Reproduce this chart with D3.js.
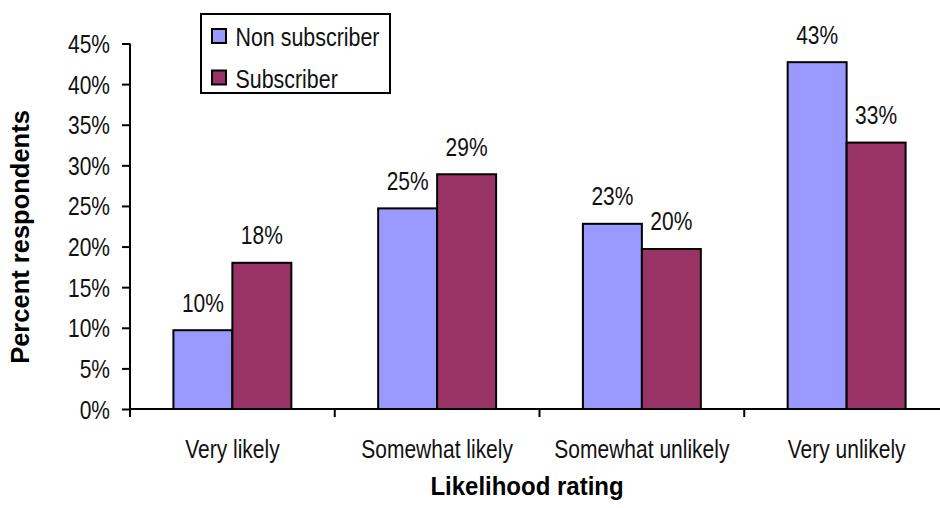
<!DOCTYPE html>
<html>
<head>
<meta charset="utf-8">
<script src="https://cdn.jsdelivr.net/npm/d3@7"></script>
<style>
  html, body { margin: 0; padding: 0; background: #fff; }
  svg { display: block; }
  .narrow { font-family: "Liberation Sans Narrow", "Arial Narrow", "Liberation Sans", Arial, sans-serif; }
  .bold { font-family: "Liberation Sans", Arial, sans-serif; font-weight: bold; }
</style>
</head>
<body>
<svg id="chart" width="940" height="508"></svg>
<script>
const categories = ["Very likely", "Somewhat likely", "Somewhat unlikely", "Very unlikely"];
const seriesNames = ["Non subscriber", "Subscriber"];
const nonSubscriber = [9.7, 24.7, 22.8, 42.7];
const subscriber = [18.0, 28.9, 19.7, 32.8];
const yTicks = [0, 5, 10, 15, 20, 25, 30, 35, 40, 45];
const colors = ["#9999FF", "#993366"];

const svg = d3.select("#chart");
const pLeft = 130, pRight = 949, pTop = 43.5, pBottom = 409;
const SX = 0.84; // horizontal condensing to imitate a narrow face

// position a text node at (x,y) with horizontal condensing
function placeNarrow(sel, fx, fy) {
  sel.attr("x", 0).attr("y", 0)
    .attr("transform", (d, i) => `translate(${fx(d, i)},${fy(d, i)}) scale(${SX},1)`);
}

const x0 = d3.scaleBand().domain(categories).range([pLeft, pRight]).padding(0);
const bw = x0.bandwidth();
const groupW = bw * 0.576;
const x1 = d3.scaleBand().domain(seriesNames).range([(bw - groupW) / 2, (bw + groupW) / 2]).padding(0);
const y = d3.scaleLinear().domain([0, 45]).range([pBottom, pTop]);

const values = [nonSubscriber, subscriber];
const rows = [];
categories.forEach((c, i) => {
  seriesNames.forEach((s, j) => rows.push({cat: c, ser: s, v: values[j][i], color: colors[j]}));
});

// bars
svg.append("g").selectAll("rect").data(rows).join("rect")
  .attr("x", d => x0(d.cat) + x1(d.ser))
  .attr("y", d => y(d.v))
  .attr("width", x1.bandwidth())
  .attr("height", d => y(0) - y(d.v))
  .attr("fill", d => d.color)
  .attr("stroke", "#000")
  .attr("stroke-width", 2);

// value labels
svg.append("g").selectAll("text").data(rows).join("text")
  .attr("class", "narrow")
  .attr("text-anchor", "middle")
  .attr("font-size", 25)
  .attr("fill", "#111")
  .text(d => Math.round(d.v) + "%")
  .call(placeNarrow, d => x0(d.cat) + x1(d.ser) + x1.bandwidth() / 2, d => y(d.v) - 18.5);

// y axis
const yAxis = svg.append("g").attr("transform", `translate(${pLeft},0)`)
  .call(d3.axisLeft(y).tickValues(yTicks).tickFormat(d => d + "%").tickSize(8).tickPadding(12));
yAxis.select(".domain").attr("stroke", "#000").attr("stroke-width", 2).attr("d", `M0,${pTop}V${pBottom}`);
yAxis.selectAll(".tick line").attr("stroke", "#000").attr("stroke-width", 2);
yAxis.selectAll(".tick text").attr("class", "narrow").attr("font-size", 25).attr("fill", "#111")
  .attr("dy", "0.36em").attr("x", 0).attr("transform", `translate(-20,0) scale(${SX},1)`);

// x axis
const boundaries = categories.map(c => x0(c)).concat([pRight]);
const xg = svg.append("g");
xg.append("line").attr("x1", pLeft).attr("x2", pRight).attr("y1", pBottom).attr("y2", pBottom)
  .attr("stroke", "#000").attr("stroke-width", 2);
xg.selectAll("line.tk").data(boundaries).join("line").attr("class", "tk")
  .attr("x1", d => d).attr("x2", d => d).attr("y1", pBottom).attr("y2", pBottom + 8)
  .attr("stroke", "#000").attr("stroke-width", 2);
xg.selectAll("text").data(categories).join("text")
  .attr("class", "narrow")
  .attr("text-anchor", "middle")
  .attr("font-size", 25)
  .attr("fill", "#111")
  .text(d => d)
  .call(placeNarrow, d => x0(d) + bw / 2, () => 458);

// axis titles
svg.append("text").attr("class", "bold")
  .attr("transform", "translate(527,495) scale(1,1.05)").attr("text-anchor", "middle")
  .attr("font-size", 24).attr("fill", "#000").text("Likelihood rating");
svg.append("text").attr("class", "bold")
  .attr("transform", "translate(29,237) rotate(-90)")
  .attr("text-anchor", "middle")
  .attr("font-size", 25.5).attr("fill", "#000").text("Percent respondents");

// legend
const lg = svg.append("g");
lg.append("rect").attr("x", 201).attr("y", 14).attr("width", 189).attr("height", 79)
  .attr("fill", "#fff").attr("stroke", "#000").attr("stroke-width", 2);
lg.selectAll("rect.sw").data(seriesNames).join("rect").attr("class", "sw")
  .attr("x", 212).attr("y", (d, i) => 29 + i * 41.5).attr("width", 14).attr("height", 14)
  .attr("fill", (d, i) => colors[i]).attr("stroke", "#000").attr("stroke-width", 2);
lg.selectAll("text").data(seriesNames).join("text")
  .attr("class", "narrow").attr("font-size", 25.5).attr("fill", "#111").text(d => d)
  .call(placeNarrow, () => 235.5, (d, i) => 46 + i * 41.5);
</script>
</body>
</html>
